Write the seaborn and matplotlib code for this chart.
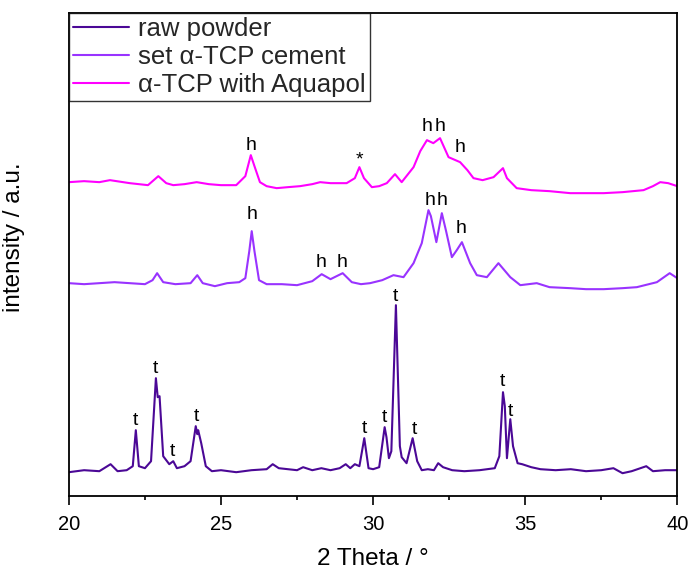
import pandas as pd
import matplotlib
matplotlib.use("Agg")
import matplotlib.pyplot as plt
import seaborn as sns
from matplotlib.ticker import MultipleLocator

# ======================================
# DATA (intensity in a.u. with offsets)
# ======================================
raw_x = [20.0, 20.5, 21.0, 21.37, 21.6, 21.9, 22.1, 22.2, 22.3, 22.5, 22.7, 22.86, 22.92, 22.98,
         23.1, 23.3, 23.43, 23.55, 23.8, 24.0, 24.17, 24.22, 24.25, 24.35, 24.5, 24.7, 25.0,
         25.5, 26.0, 26.5, 26.7, 26.9, 27.2, 27.5, 27.7, 28.0, 28.3, 28.6, 28.9, 29.1, 29.25,
         29.4, 29.55, 29.71, 29.85, 30.0, 30.2, 30.38, 30.44, 30.52, 30.6, 30.75, 30.88, 30.94,
         31.1, 31.3, 31.45, 31.6, 31.8, 32.0, 32.14, 32.3, 32.6, 33.0, 33.5, 34.0, 34.15, 34.27,
         34.33, 34.4, 34.51, 34.6, 34.75, 34.9, 35.2, 35.5, 36.0, 36.5, 37.0, 37.5, 37.9, 38.2,
         38.5, 38.98, 39.2, 39.6, 40.0]
raw_y = [24, 26, 25, 32, 25, 26, 30, 66, 30, 28, 35, 118, 99, 100,
         40, 32, 35, 28, 30, 35, 70, 62, 66, 53, 30, 25, 26,
         24, 26, 27, 32, 28, 27, 26, 29, 26, 28, 26, 28, 32, 28,
         32, 30, 58, 28, 27, 29, 69, 59, 38, 45, 191, 50, 39,
         33, 58, 35, 26, 27, 26, 33, 29, 26, 25, 26, 28, 40, 104,
         90, 38, 77, 50, 33, 32, 29, 27, 26, 27, 25, 26, 28, 23,
         25, 30, 25, 26, 26]

set_x = [20.0, 20.5, 21.0, 21.5, 22.0, 22.5, 22.75, 22.9, 23.1, 23.5, 24.0, 24.22, 24.4, 24.8,
         25.2, 25.6, 25.8, 25.93, 26.01, 26.1, 26.25, 26.5, 27.0, 27.5, 28.0, 28.31, 28.6,
         29.0, 29.3, 29.6, 29.9, 30.3, 30.67, 31.0, 31.33, 31.6, 31.82, 31.9, 32.08, 32.26,
         32.4, 32.59, 32.75, 32.92, 33.19, 33.41, 33.74, 34.12, 34.51, 34.84, 35.38, 35.8,
         36.48, 37.0, 37.58, 38.2, 38.67, 39.33, 39.75, 40.0]
set_y = [213, 212, 213, 214, 213, 212, 216, 223, 214, 212, 213, 221, 213, 210,
         213, 214, 218, 245, 265, 245, 216, 212, 212, 211, 215, 222, 217,
         223, 214, 212, 213, 216, 221, 219, 233, 253, 286, 280, 254, 283,
         265, 239, 246, 254, 233, 221, 219, 233, 219, 211, 213, 209,
         208, 207, 207, 208, 209, 214, 223, 218]

aqua_x = [20.0, 20.5, 21.0, 21.35, 22.0, 22.6, 22.94, 23.2, 23.43, 23.8, 24.2, 24.6, 25.0,
          25.5, 25.8, 25.98, 26.1, 26.28, 26.5, 26.83, 27.2, 27.6, 28.0, 28.26, 28.6, 29.13,
          29.4, 29.55, 29.7, 29.96, 30.2, 30.45, 30.72, 30.94, 31.33, 31.55, 31.77, 31.98,
          32.2, 32.48, 32.86, 33.1, 33.3, 33.6, 33.96, 34.27, 34.4, 34.72, 35.2, 35.8, 36.48,
          37.0, 37.58, 38.2, 38.89, 39.2, 39.44, 39.7, 40.0]
aqua_y = [314, 315, 314, 316, 313, 311, 320, 313, 311, 312, 314, 312, 311,
          311, 320, 341, 330, 314, 310, 308, 309, 310, 312, 314, 313, 313,
          318, 329, 318, 309, 310, 313, 322, 314, 329, 345, 356, 353,
          358, 339, 334, 326, 318, 316, 319, 328, 318, 308, 306, 305, 303,
          303, 303, 304, 306, 310, 314, 313, 310]

series_names = ["raw powder", "set \u03b1-TCP cement", "\u03b1-TCP with Aquapol"]
series_colors = ["#4B0896", "#9933FF", "#FF00FF"]

# peak markers: (2 theta, intensity, symbol)
label_x = [25.99, 29.54, 31.78, 32.2, 32.86,
           26.02, 28.29, 28.98, 31.88, 32.27, 32.89,
           22.2, 22.86, 23.42, 24.18, 29.7, 30.36, 30.72, 31.35, 34.24, 34.51]
label_y = [351, 336, 370, 370, 349,
           282, 234, 234, 296, 296, 268,
           76, 128, 45, 80, 68, 79, 200, 67, 115, 85]
label_txt = ["h", "*", "h", "h", "h",
             "h", "h", "h", "h", "h", "h",
             "t", "t", "t", "t", "t", "t", "t", "t", "t", "t"]

# ======================================
# PLOT
# ======================================
sns.set_style("ticks")
plt.rcParams['font.family'] = ['Liberation Sans', 'DejaVu Sans']

df = pd.concat([
    pd.DataFrame({"theta": raw_x, "intensity": raw_y, "sample": series_names[0]}),
    pd.DataFrame({"theta": set_x, "intensity": set_y, "sample": series_names[1]}),
    pd.DataFrame({"theta": aqua_x, "intensity": aqua_y, "sample": series_names[2]}),
])

fig, ax = plt.subplots(figsize=(6.89, 5.71), dpi=100)
fig.subplots_adjust(left=0.100, right=0.983, top=0.977, bottom=0.131)

sns.lineplot(data=df, x="theta", y="intensity", hue="sample",
             palette=dict(zip(series_names, series_colors)),
             estimator=None, sort=False, linewidth=1.5, ax=ax)

for x, y, s in zip(label_x, label_y, label_txt):
    ax.text(x, y, s, ha="center", va="center", fontsize=14, color="black")

ax.set_xlim(20, 40)
ax.set_ylim(0, 483)
ax.set_yticks([])
ax.xaxis.set_major_locator(MultipleLocator(5))
ax.xaxis.set_minor_locator(MultipleLocator(2.5))
ax.tick_params(axis="x", which="major", direction="out", length=6.5, width=1.2,
               labelsize=14.5, pad=7, colors="black")
ax.tick_params(axis="x", which="minor", direction="out", length=3, width=1.2, colors="black")
for sp in ax.spines.values():
    sp.set_visible(True)
    sp.set_linewidth(1.3)
    sp.set_color("black")

ax.set_xlabel("2 Theta / \u00b0", fontsize=17.5, labelpad=10, color="black")
ax.set_ylabel("intensity / a.u.", fontsize=17.5, color="black")
ax.yaxis.set_label_coords(-0.072, 0.536)

leg = ax.legend(loc="upper left", fontsize=18.5, frameon=True, fancybox=False,
                edgecolor="black", borderaxespad=0, handlelength=2.2,
                handletextpad=0.35, labelspacing=0.15, borderpad=0.15)
leg.get_frame().set_linewidth(1.0)
leg.set_title(None)

fig.savefig("out.png", dpi=100)
